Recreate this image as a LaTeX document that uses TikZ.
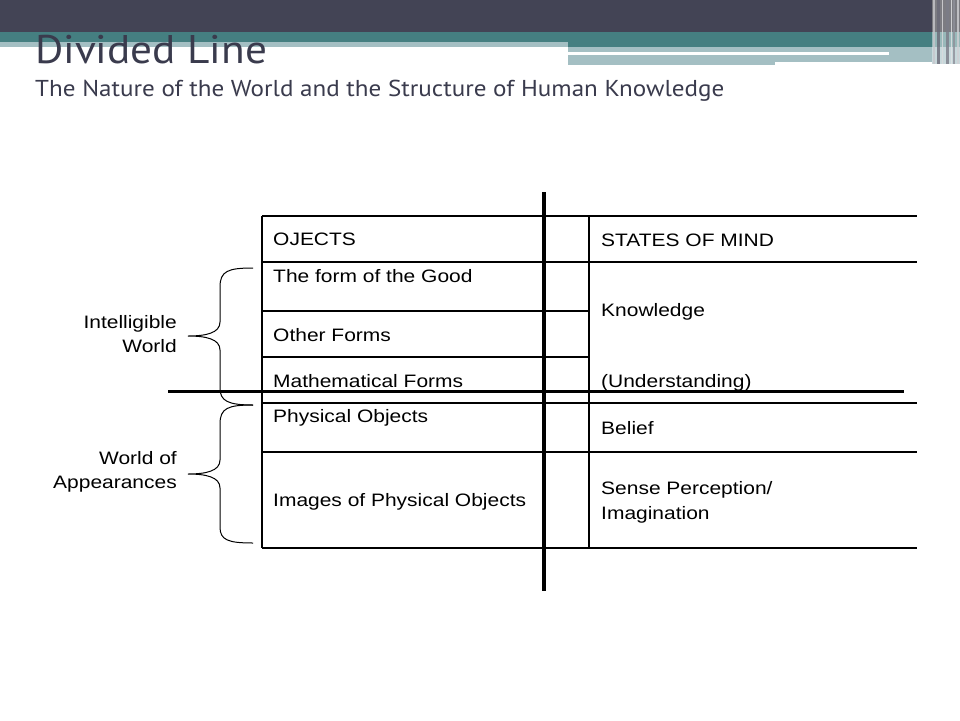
\documentclass[tikz,border=0pt]{standalone}
\usepackage{fontspec}
\setmainfont{Liberation Sans}[FakeStretch=1.165]
\newfontfamily\titlefont{PT Sans}
\definecolor{darkbar}{HTML}{434455}
\definecolor{tealbar}{HTML}{457F81}
\definecolor{lightbar}{HTML}{A4BFC3}
\definecolor{titlecol}{HTML}{3A3B4D}
\tikzset{
  txt/.style={anchor=base west, inner sep=0pt, font=\fontsize{18}{25}\selectfont},
  rtxt/.style={anchor=base east, inner sep=0pt, font=\fontsize{18}{24}\selectfont},
  thin/.style={line width=1.2pt},
  thick line/.style={line width=4pt},
  bracepath/.style={line width=1pt},
}
\begin{document}
\begin{tikzpicture}[x=1pt,y=-1pt]
\useasboundingbox[fill=white] (0,0) rectangle (960,720);
% banner
\fill[darkbar] (0,0) rectangle (932,32);
\fill[tealbar] (0,32) rectangle (932,42);
\fill[tealbar] (568,42) rectangle (932,47);
\fill[lightbar] (0,42) rectangle (568,47);
\fill[lightbar] (568,47) rectangle (775,64.5);
\fill[lightbar] (775,47) rectangle (943,62);
\fill[white] (568,52) rectangle (889,55);
% right stripes
\fill[black!45!darkbar!60!white] (932,0) rectangle (960,32);
\fill[tealbar!55!white] (932,32) rectangle (960,47);
\fill[lightbar!60!white] (932,47) rectangle (960,64);
\foreach \xx/\ww/\cc in {933/1.5/white!70!darkbar, 937/3/darkbar!80!white, 942/1/white!80!darkbar, 946/2.5/darkbar!70!white, 950.5/1/white!85!darkbar, 953/2/darkbar!60!white, 957/1.5/white!75!darkbar}
  \fill[\cc, opacity=0.8] (\xx,0) rectangle ++(\ww,64);
% title
\node[anchor=base west, inner sep=0pt, text=titlecol] (title) at (35,63.3)
  {\titlefont\fontsize{40}{40}\selectfont\resizebox{232pt}{\height}{Divided Line}};
\node[anchor=base west, inner sep=0pt, text=titlecol] (subtitle) at (35,96.5)
  {\titlefont\fontsize{23}{23}\selectfont\resizebox{689pt}{\height}{The Nature of the World and the Structure of Human Knowledge}};
% table thin lines
\draw[thin] (262,216) -- (917,216);
\draw[thin] (262,262) -- (917,262);
\draw[thin] (262,311) -- (589,311);
\draw[thin] (262,357) -- (589,357);
\draw[thin] (262,403) -- (917,403);
\draw[thin] (262,452) -- (917,452);
\draw[thin] (262,548) -- (917,548);
\draw[thin] (262,216) -- (262,548);
\draw[thin] (589,216) -- (589,548);
% texts
\node[txt] (oj) at (273,245.7) {OJECTS};
\node[txt] (good) at (273,282.7) {The form of the Good};
\node[txt] (other) at (273,341.7) {Other Forms};
\node[txt] (math) at (273,387.7) {Mathematical Forms};
\node[txt] (phys) at (273,422.7) {Physical Objects};
\node[txt] (imgs) at (273,506.7) {Images of Physical Objects};
\node[txt] (som) at (601,246.7) {STATES OF MIND};
\node[txt] (know) at (601,316) {Knowledge};
\node[txt] (und) at (601,387.3) {(Understanding)};
\node[txt] (bel) at (601,434.3) {Belief};
\node[txt] (sense) at (601,494.3) {\begin{tabular}[t]{@{}l@{}}Sense Perception/\\Imagination\end{tabular}};
\node[rtxt] (intel) at (177,328.3) {\begin{tabular}[t]{@{}r@{}}Intelligible\\World\end{tabular}};
\node[rtxt] (appear) at (177,464) {\begin{tabular}[t]{@{}r@{}}World of\\Appearances\end{tabular}};
% braces
\draw[bracepath] (253,268) .. controls (228,268) and (220,271) .. (220,287)
  -- (220,322) .. controls (220,333) and (206,336) .. (188,336)
  .. controls (206,336) and (220,339) .. (220,350)
  -- (220,388) .. controls (220,401) and (228,405) .. (253,405);
\draw[bracepath] (253,405) .. controls (228,405) and (220,408) .. (220,424)
  -- (220,460) .. controls (220,471) and (206,474) .. (188,474)
  .. controls (206,474) and (220,477) .. (220,488)
  -- (220,527) .. controls (220,540) and (228,543) .. (253,543);
% thick dividing lines
\draw[thick line] (544,192) -- (544,591);
\draw[line width=3.8pt] (168,391.5) -- (904,391.5);
\end{tikzpicture}
\end{document}
